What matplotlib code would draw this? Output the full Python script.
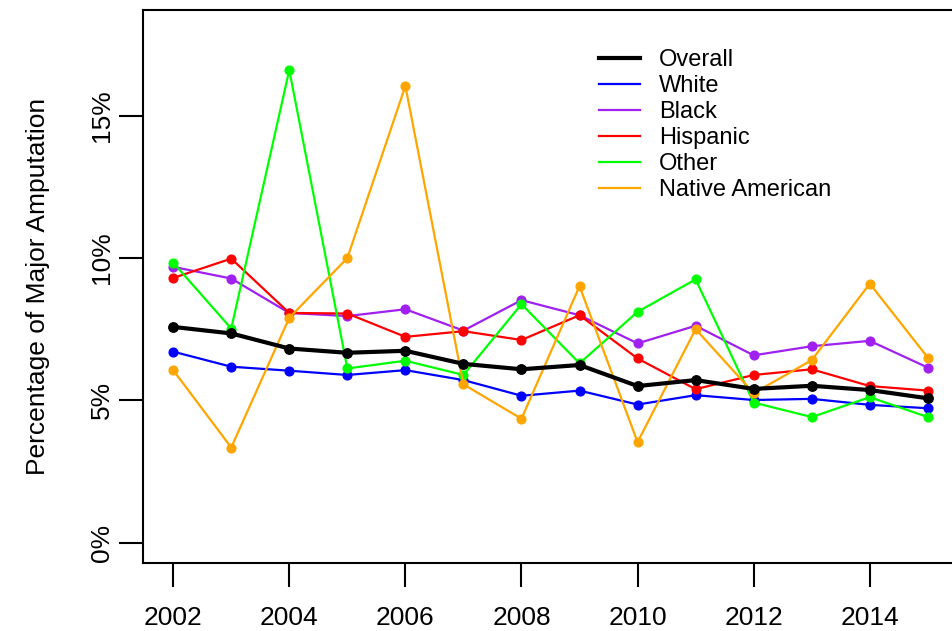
import matplotlib
matplotlib.use('Agg')
import matplotlib.pyplot as plt
from matplotlib.ticker import FuncFormatter

plt.rcParams['font.family'] = ['Liberation Sans', 'DejaVu Sans']

years = list(range(2002, 2016))

overall = [7.58, 7.35, 6.82, 6.67, 6.74, 6.28, 6.09, 6.24, 5.50, 5.71, 5.40, 5.51, 5.36, 5.07]
white = [6.71, 6.18, 6.04, 5.89, 6.06, 5.71, 5.16, 5.34, 4.85, 5.18, 5.01, 5.05, 4.84, 4.72]
black = [9.69, 9.28, 8.07, 7.96, 8.20, 7.45, 8.52, 7.99, 7.00, 7.62, 6.58, 6.90, 7.09, 6.15]
hispanic = [9.30, 9.98, 8.07, 8.05, 7.23, 7.43, 7.12, 7.99, 6.47, 5.39, 5.89, 6.09, 5.50, 5.34]
other = [9.84, 7.52, 16.61, 6.12, 6.39, 5.89, 8.38, 6.30, 8.11, 9.25, 4.92, 4.41, 5.11, 4.41]
native = [6.06, 3.34, 7.90, 10.0, 16.05, 5.56, 4.35, 9.01, 3.53, 7.50, 5.25, 6.41, 9.10, 6.50]

series = [
    ('Overall', overall, 'black'),
    ('White', white, '#0000FF'),
    ('Black', black, '#A020F0'),
    ('Hispanic', hispanic, '#FF0000'),
    ('Other', other, '#00FF00'),
    ('Native American', native, '#FFA500'),
]

W, H = 953, 631
fig = plt.figure(figsize=(W / 100, H / 100), dpi=100)
ax = fig.add_axes([143 / W, (H - 563) / H, (958 - 143) / W, (563 - 10) / H])

# colored groups first, overall on top
for name, vals, col in series[1:]:
    ax.plot(years, vals, color=col, lw=1.6, marker='o', ms=6.3, label=name)
ax.plot(years, overall, color='black', lw=3, marker='o', ms=6.8, label='Overall', zorder=5)

ax.set_xlim(2002 - 0.52, 2015 + 0.52)
ax.set_ylim(-0.72, 18.72)
ax.set_xticks(range(2002, 2016, 2))
ax.set_yticks([0, 5, 10, 15])
ax.yaxis.set_major_formatter(FuncFormatter(lambda v, p: f'{v:.0f}%'))

for s in ['left', 'top', 'bottom']:
    ax.spines[s].set_linewidth(1.5)
ax.spines['right'].set_visible(False)
ax.tick_params(length=17, width=1.5, labelsize=19)
ax.tick_params(axis='x', pad=14)
ax.tick_params(axis='y', pad=4)
for lab in ax.get_yticklabels():
    lab.set_rotation(90)
    lab.set_va('center')

ax.set_ylabel('Percentage of Major Amputation', fontsize=19, labelpad=29)

handles, labels = ax.get_legend_handles_labels()
order = [labels.index(n) for n, _, _ in series]
leg = ax.legend([handles[i] for i in order], [labels[i] for i in order],
                loc='upper left', bbox_to_anchor=(599 / W, 1 - 49 / H),
                bbox_transform=fig.transFigure, frameon=False, fontsize=17,
                handlelength=1.75, handletextpad=0.8, labelspacing=0.17,
                borderpad=0, borderaxespad=0)
for h in leg.legend_handles:
    h.set_marker('')

fig.savefig('out.png', dpi=100)
